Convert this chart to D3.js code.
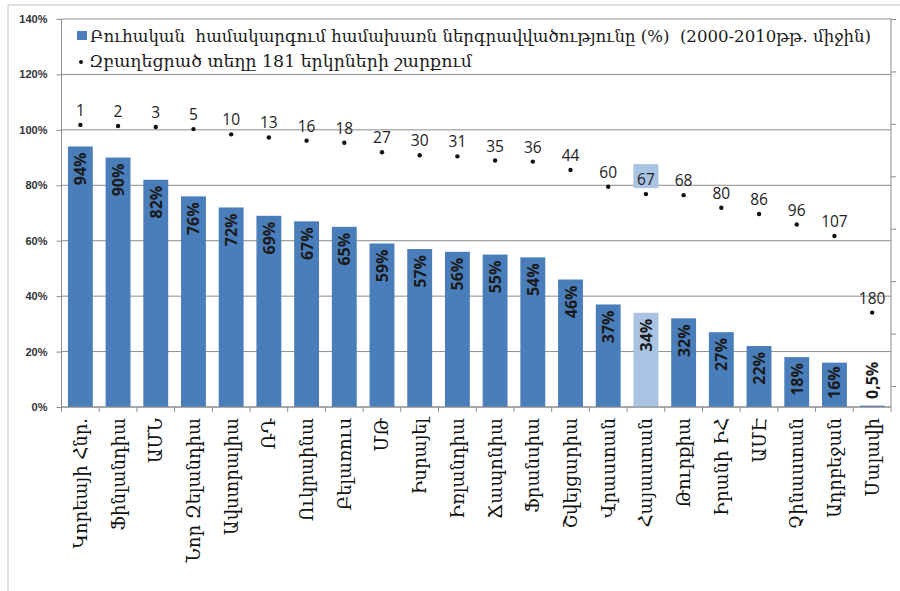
<!DOCTYPE html>
<html>
<head>
<meta charset="utf-8">
<script src="https://cdn.jsdelivr.net/npm/d3@7"></script>
<style>
  body { margin: 0; background: #fff; }
  .y-axis text { font-family: "Liberation Sans", Arial, sans-serif; font-weight: bold; font-size: 11px; fill: #333; }
  .y-axis path, .y-axis line, .x-axis path, .x-axis line, .r-axis path, .r-axis line { stroke: #8c8c8c; }
</style>
</head>
<body>
<div id="chartArea"></div>
<script>
var countries = ['Կորեայի Հնր.', 'Ֆինլանդիա', 'ԱՄՆ', 'Նոր Զելանդիա', 'Ավստրալիա', 'ՌԴ',
    'Ուկրաինա', 'Բելառուս', 'ՄԹ', 'Իսրայել', 'Իռլանդիա', 'Ճապոնիա', 'Ֆրանսիա',
    'Շվեյցարիա', 'Վրաստան', 'Հայաստան', 'Թուրքիա', 'Իրանի ԻՀ', 'ԱՄԷ', 'Չինաստան',
    'Ադրբեջան', 'Մալավի'];
var enrollment = [94, 90, 82, 76, 72, 69, 67, 65, 59, 57, 56, 55, 54, 46, 37, 34, 32, 27, 22, 18, 16, 0.5];
var ranks = [1, 2, 3, 5, 10, 13, 16, 18, 27, 30, 31, 35, 36, 44, 60, 67, 68, 80, 86, 96, 107, 180];
var yTicks = [0, 20, 40, 60, 80, 100, 120, 140];
var rankTicks = [-100, -50, 0, 50, 100, 150, 200, 250];
var highlight = 'Հայաստան';

var legend1 = 'Բուհական  համակարգում համախառն ներգրավվածությունը (%)  (2000-2010թթ. միջին)';
var legend2 = 'Զբաղեցրած տեղը 181 երկրների շարքում';

var W = 900, H = 591;
var margin = {left: 61.5, right: 891, top: 19, bottom: 407};

var svg = d3.select('#chartArea').append('svg')
    .attr('width', W)
    .attr('height', H);

// chart frame
svg.append('line').attr('x1', 8).attr('x2', W).attr('y1', 5).attr('y2', 5).attr('stroke', '#d4d4d4').attr('stroke-width', 1.5);
svg.append('line').attr('x1', 8).attr('x2', 8).attr('y1', 5).attr('y2', H).attr('stroke', '#d4d4d4').attr('stroke-width', 1.5);

var xScale = d3.scaleBand()
    .domain(countries)
    .range([margin.left, margin.right])
    .paddingInner(0.34)
    .paddingOuter(0.17);

var yScale = d3.scaleLinear()
    .domain([0, 140])
    .range([margin.bottom, margin.top]);

var rankScale = d3.scaleLinear()
    .domain([-100, 270])
    .range([margin.top, margin.bottom]);

// gridlines
svg.append('g')
    .selectAll('line')
    .data(yTicks)
    .enter()
    .append('line')
    .attr('x1', margin.left)
    .attr('x2', margin.right)
    .attr('y1', function(d) { return yScale(d); })
    .attr('y2', function(d) { return yScale(d); })
    .attr('stroke', '#8c8c8c')
    .attr('stroke-width', 1);

var yAxis = d3.axisLeft(yScale)
    .tickValues(yTicks)
    .tickSize(5)
    .tickPadding(9)
    .tickFormat(function(d) { return d + '%'; });

svg.append('g')
    .attr('class', 'y-axis')
    .attr('transform', 'translate(' + margin.left + ', 0)')
    .call(yAxis)
    .call(function(g) { g.select('.domain').attr('d', 'M0,' + margin.top + 'V' + margin.bottom); });

var rAxis = d3.axisRight(rankScale)
    .tickValues(rankTicks)
    .tickSize(5)
    .tickFormat('');

svg.append('g')
    .attr('class', 'r-axis')
    .attr('transform', 'translate(' + margin.right + ', 0)')
    .call(rAxis)
    .call(function(g) { g.select('.domain').attr('d', 'M0,' + margin.top + 'V' + margin.bottom); });

// bars
svg.selectAll('rect.bar')
    .data(countries)
    .enter()
    .append('rect')
    .attr('class', 'bar')
    .attr('x', function(d) { return xScale(d); })
    .attr('width', xScale.bandwidth())
    .attr('y', function(d, i) { return yScale(enrollment[i]); })
    .attr('height', function(d, i) { return margin.bottom - yScale(enrollment[i]); })
    .attr('fill', function(d) { return d === highlight ? '#a9c3e3' : '#4a7ebb'; });

// x axis with boundary ticks
var step = xScale.step();
svg.append('g')
    .attr('class', 'x-axis')
    .selectAll('line')
    .data(d3.range(countries.length + 1))
    .enter()
    .append('line')
    .attr('x1', function(i) { return margin.left + i * step; })
    .attr('x2', function(i) { return margin.left + i * step; })
    .attr('y1', margin.bottom)
    .attr('y2', margin.bottom + 5);
svg.select('.x-axis').append('line')
    .attr('x1', margin.left).attr('x2', margin.right)
    .attr('y1', margin.bottom).attr('y2', margin.bottom);

var cx = function(d) { return xScale(d) + xScale.bandwidth() / 2; };

// bar value labels
var fmt = function(v) { return String(v).replace('.', ',') + '%'; };
svg.selectAll('text.val')
    .data(countries)
    .enter()
    .append('text')
    .attr('class', 'val')
    .text(function(d, i) { return fmt(enrollment[i]); })
    .attr('font-family', '"Open Sans", "Liberation Sans", sans-serif')
    .attr('font-weight', 'bold')
    .attr('font-size', 16)
    .attr('fill', '#1a1a1a')
    .attr('text-anchor', 'end')
    .attr('dominant-baseline', 'central')
    .attr('transform', function(d, i) {
        var len = this.getComputedTextLength();
        var yt = Math.min(yScale(enrollment[i]) + 6, 399 - len);
        return 'translate(' + cx(d) + ',' + yt + ') rotate(-90)';
    });

// rank dots
svg.selectAll('rect.hl')
    .data(countries.filter(function(d) { return d === highlight; }))
    .enter()
    .append('rect')
    .attr('x', function(d) { return cx(d) - 12.5; })
    .attr('y', function(d) { return rankScale(ranks[countries.indexOf(d)]) - 30; })
    .attr('width', 25)
    .attr('height', 24)
    .attr('fill', '#a9c3e3');

svg.selectAll('circle.rank')
    .data(countries)
    .enter()
    .append('circle')
    .attr('class', 'rank')
    .attr('cx', cx)
    .attr('cy', function(d, i) { return rankScale(ranks[i]); })
    .attr('r', 2.2)
    .attr('fill', '#111');

svg.selectAll('text.rank')
    .data(countries)
    .enter()
    .append('text')
    .attr('class', 'rank')
    .attr('x', cx)
    .attr('y', function(d, i) { return rankScale(ranks[i]) - 9; })
    .attr('text-anchor', 'middle')
    .attr('font-family', '"Open Sans", sans-serif')
    .attr('font-size', 15.5)
    .attr('fill', '#222')
    .text(function(d, i) { return ranks[i]; });

// category labels
svg.selectAll('text.cat')
    .data(countries)
    .enter()
    .append('text')
    .attr('class', 'cat')
    .attr('font-family', '"DejaVu Serif", "DejaVu Sans", serif')
    .attr('font-size', 18)
    .attr('fill', '#111')
    .attr('text-anchor', 'end')
    .attr('dominant-baseline', 'central')
    .attr('transform', function(d) { return 'translate(' + cx(d) + ',' + (margin.bottom + 11) + ') rotate(-90)'; })
    .text(function(d) { return d; });

// legend
var lg = svg.append('g');
lg.append('rect').attr('x', 77).attr('y', 31).attr('width', 10).attr('height', 9).attr('fill', '#4a7ebb');
lg.append('text')
    .attr('x', 90).attr('y', 42)
    .attr('font-family', '"DejaVu Serif", serif')
    .attr('font-size', 16.5)
    .attr('fill', '#1a1a1a')
    .style('white-space', 'pre')
    .attr('textLength', 781)
    .attr('lengthAdjust', 'spacingAndGlyphs')
    .text(legend1);
lg.append('circle').attr('cx', 81).attr('cy', 62).attr('r', 2).attr('fill', '#111');
lg.append('text')
    .attr('x', 89).attr('y', 67)
    .attr('font-family', '"DejaVu Serif", serif')
    .attr('font-size', 16.5)
    .attr('fill', '#1a1a1a')
    .attr('textLength', 383)
    .attr('lengthAdjust', 'spacingAndGlyphs')
    .text(legend2);
</script>
</body>
</html>
